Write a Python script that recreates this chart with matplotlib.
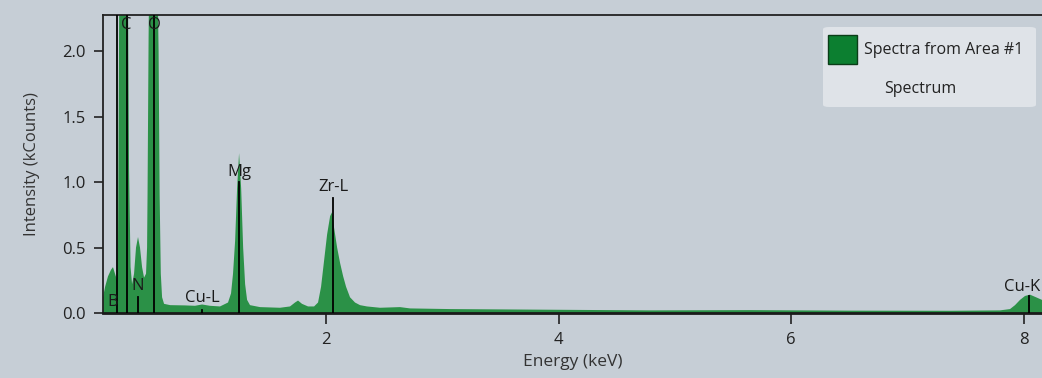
import matplotlib
matplotlib.use("Agg")
import matplotlib.pyplot as plt
from matplotlib.patches import FancyBboxPatch, Rectangle

plt.rcParams['font.family'] = ['Open Sans', 'DejaVu Sans']

# Spectrum (energy keV, intensity kCounts)
energy = [0.083, 0.101, 0.126, 0.152, 0.169, 0.186, 0.204, 0.212, 0.217, 0.225, 0.256,
          0.290, 0.298, 0.307, 0.320, 0.333, 0.350, 0.367, 0.384, 0.401, 0.419,
          0.436, 0.453, 0.462, 0.466, 0.475, 0.483, 0.513, 0.548, 0.561, 0.570, 0.580, 0.591,
          0.608, 0.660, 0.788, 0.874, 0.935, 1.003, 1.089, 1.158, 1.184, 1.201,
          1.219, 1.236, 1.253, 1.271, 1.288, 1.305, 1.322, 1.347, 1.433, 1.605,
          1.691, 1.734, 1.760, 1.794, 1.846, 1.898, 1.932, 1.958, 1.984, 2.010,
          2.036, 2.053, 2.070, 2.096, 2.122, 2.148, 2.173, 2.207, 2.250, 2.293,
          2.353, 2.465, 2.637, 2.723, 3.067, 3.927, 4.787, 5.647, 6.507, 7.366,
          7.796, 7.882, 7.925, 7.968, 8.011, 8.054, 8.106, 8.157]
counts = [0.12, 0.20, 0.28, 0.33, 0.35, 0.30, 0.25, 0.50, 1.40, 2.80, 3.50,
          3.20, 2.40, 1.10, 0.35, 0.22, 0.30, 0.50, 0.58, 0.50, 0.35,
          0.27, 0.30, 0.50, 0.90, 2.10, 2.80, 4.00, 2.80, 2.00, 0.90, 0.30, 0.12,
          0.07, 0.06, 0.058, 0.055, 0.065, 0.055, 0.05, 0.08, 0.15, 0.30,
          0.55, 0.95, 1.22, 0.95, 0.50, 0.22, 0.10, 0.06, 0.045, 0.04,
          0.05, 0.08, 0.095, 0.07, 0.05, 0.05, 0.08, 0.20, 0.40, 0.60,
          0.74, 0.77, 0.65, 0.50, 0.38, 0.28, 0.20, 0.12, 0.08, 0.06,
          0.05, 0.04, 0.045, 0.035, 0.03, 0.025, 0.02, 0.022, 0.018, 0.017,
          0.02, 0.03, 0.06, 0.10, 0.13, 0.14, 0.12, 0.10]

# Element markers
elements = ['B', 'C', 'N', 'O', 'Cu-L', 'Mg', 'Zr-L', 'Cu-K']
line_energy = [0.201, 0.287, 0.387, 0.525, 0.932, 1.255, 2.064, 8.048]
line_top = [2.4, 2.4, 0.12, 2.4, 0.02, 1.0, 0.875, 0.13]
label_x = [0.170, 0.281, 0.384, 0.522, 0.935, 1.253, 2.061, 7.985]
label_y = [0.084, 2.20, 0.206, 2.20, 0.115, 1.076, 0.96, 0.20]

yticks = [0.0, 0.5, 1.0, 1.5, 2.0]
xticks = [2, 4, 6, 8]

bg = '#c6ced6'
green = '#2b9147'
fs = 12

fig = plt.figure(figsize=(10.42, 3.78), dpi=100, facecolor=bg)
ax = fig.add_axes([103/1042, 65/378, 939/1042, 298/378])
ax.set_facecolor(bg)

ax.fill_between(energy, counts, 0, color=green, lw=0)
for e, t in zip(line_energy, line_top):
    ax.plot([e, e], [0, t], color='black', lw=1.3, zorder=3)
for name, lx, ly in zip(elements, label_x, label_y):
    ax.text(lx, ly, name, ha='center', va='center', fontsize=fs, color='#1a1a1a', zorder=4)

ax.set_xlim(0.083, 8.157)
ax.set_ylim(0, 2.275)
ax.set_xticks(xticks)
ax.set_xticklabels([str(v) for v in xticks])
ax.set_yticks(yticks)
ax.set_yticklabels([f'{v:.1f}' for v in yticks])
ax.tick_params(axis='x', direction='out', length=8, width=1.2, labelsize=fs, pad=6, colors='#222222')
ax.tick_params(axis='y', direction='out', length=6.5, width=1.2, labelsize=fs, pad=6, colors='#222222')
for s in ['left', 'top']:
    ax.spines[s].set_color('#222222')
    ax.spines[s].set_linewidth(1.3)
ax.spines['bottom'].set_color('#1a1a1a')
ax.spines['bottom'].set_linewidth(2)
ax.spines['right'].set_visible(False)

ax.set_xlabel('Energy (keV)', fontsize=12.5, color='#333333', labelpad=4)
ax.set_ylabel('Intensity (kCounts)', fontsize=12, color='#333333', labelpad=16)

# Legend box
W, H = 1042, 378
box = FancyBboxPatch((823/W, 1 - 107/H), 213/W, 80/H,
                     boxstyle='round,pad=0,rounding_size=0.006',
                     transform=fig.transFigure, facecolor='#dfe3e8', edgecolor='none', zorder=5)
fig.patches.append(box)
patch = Rectangle((828/W, 1 - 64/H), 29/W, 29/H, transform=fig.transFigure,
                  facecolor='#0c7f30', edgecolor='#0b3d18', lw=1, zorder=6)
fig.patches.append(patch)
fig.text(864/W, 1 - 50/H, 'Spectra from Area #1', fontsize=11.5, va='center', ha='left', color='#222222', zorder=7)
fig.text(920/W, 1 - 89/H, 'Spectrum', fontsize=11.5, va='center', ha='center', color='#222222', zorder=7)

fig.savefig('out.png', dpi=100, facecolor=bg)
